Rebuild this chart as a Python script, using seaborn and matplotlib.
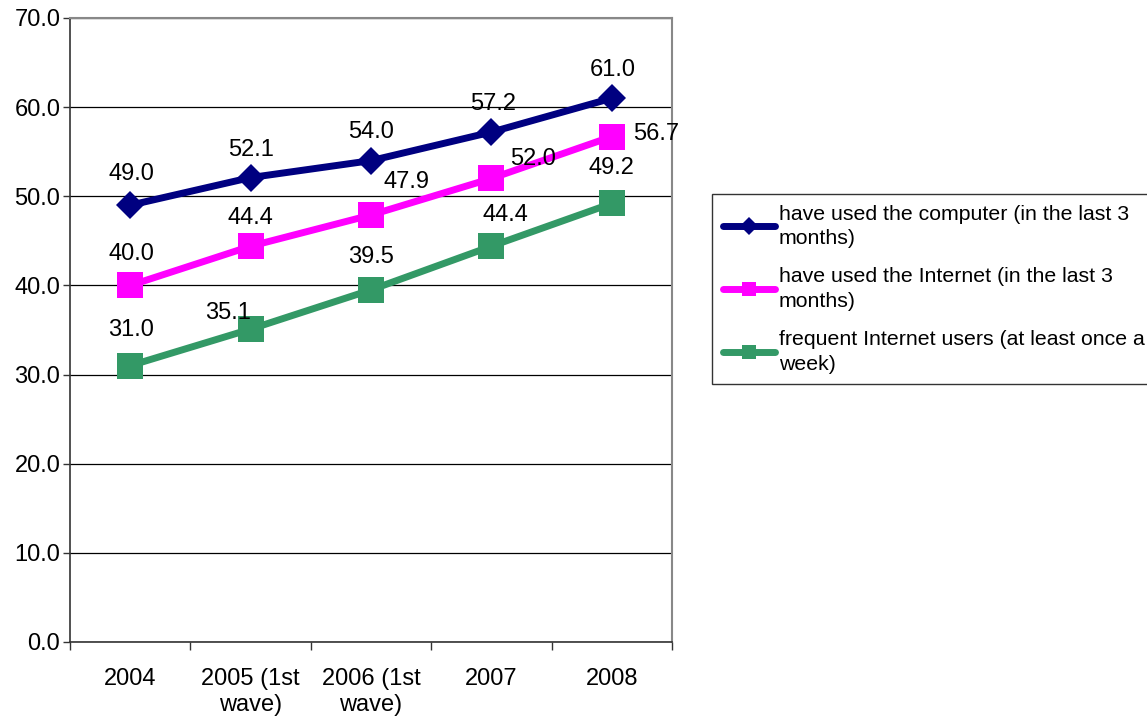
import numpy as np
import pandas as pd
import matplotlib
matplotlib.use("Agg")
import matplotlib.pyplot as plt
import seaborn as sns

years = ["2004", "2005 (1st\nwave)", "2006 (1st\nwave)", "2007", "2008"]
computer = [49.0, 52.1, 54.0, 57.2, 61.0]
internet = [40.0, 44.4, 47.9, 52.0, 56.7]
frequent = [31.0, 35.1, 39.5, 44.4, 49.2]
series_names = [
    "have used the computer (in the last 3\nmonths)",
    "have used the Internet (in the last 3\nmonths)",
    "frequent Internet users (at least once a\nweek)",
]
y_ticks = [0, 10, 20, 30, 40, 50, 60, 70]

sns.set_theme(style="white")
plt.rcParams["font.family"] = ["Liberation Sans", "DejaVu Sans"]
plt.rcParams["text.color"] = "black"
plt.rcParams["xtick.labelcolor"] = "black"
plt.rcParams["ytick.labelcolor"] = "black"

FS = 17

fig = plt.figure(figsize=(11.47, 7.18), dpi=100)
ax = fig.add_axes([70 / 1147, 1 - 642 / 718, (672 - 70) / 1147, (642 - 18) / 718])

pos = np.arange(len(years))
styles = [
    dict(color="#000080", marker="D", markersize=14, legend_ms=9),
    dict(color="#FF00FF", marker="s", markersize=19, legend_ms=10),
    dict(color="#339966", marker="s", markersize=19, legend_ms=10),
]
# value-label baseline offsets (points) from each marker
offsets = [
    [(0.7, 18.4), (0, 15.5), (0, 16.2), (1.4, 16.2), (0.7, 16.2)],
    [(0.7, 18.0), (0, 15.8), (25.9, 19.4), (30.2, 9.7), (31.7, -2.5)],
    [(0.7, 21.2), (-16.2, 7.6), (0, 19.4), (10.1, 18.4), (0, 20.9)],
]

for vals, name, st, offs in zip([computer, internet, frequent], series_names, styles, offsets):
    df = pd.DataFrame({"pos": pos, "value": vals})
    sns.lineplot(data=df, x="pos", y="value", ax=ax, color=st["color"], linewidth=5,
                 marker=st["marker"], markersize=st["markersize"], markeredgewidth=0,
                 label=name, zorder=3)
    for x, v, (dx, dy) in zip(pos, vals, offs):
        ax.annotate(f"{v:.1f}", (x, v), xytext=(dx, dy), textcoords="offset points",
                    ha="center", va="baseline", fontsize=FS, color="black", zorder=4)

ax.set_xlim(-0.5, len(years) - 0.5)
ax.set_ylim(0, 70)
ax.set_yticks(y_ticks)
ax.set_yticklabels([f"{t:.1f}" for t in y_ticks], fontsize=FS)
ax.set_xticks(np.arange(len(years) + 1) - 0.5)
ax.set_xticklabels([])
ax.set_xticks(pos, minor=True)
ax.set_xticklabels(years, minor=True, fontsize=FS)
ax.tick_params(axis="x", which="major", direction="out", length=6, width=1, color="#333333", bottom=True)
ax.tick_params(axis="x", which="minor", length=0, pad=19)
ax.tick_params(axis="y", direction="out", length=5, width=1, color="#333333", left=True, pad=2)
ax.set_xlabel("")
ax.set_ylabel("")

ax.yaxis.grid(True, color="black", linewidth=0.9)
ax.set_axisbelow(True)
for side in ["left", "bottom"]:
    ax.spines[side].set_color("#333333")
    ax.spines[side].set_linewidth(1.2)
for side in ["top", "right"]:
    ax.spines[side].set_color("#888888")
    ax.spines[side].set_linewidth(1.5)

leg = ax.legend(loc="upper left", bbox_to_anchor=(712 / 1147, 1 - 194 / 718),
                bbox_transform=fig.transFigure, frameon=True, fancybox=False,
                fontsize=15.3, handlelength=2.45, handletextpad=0.2, borderpad=0.5,
                labelspacing=0.9, borderaxespad=0)
leg.get_frame().set_edgecolor("black")
leg.get_frame().set_linewidth(1.0)
for t in leg.get_texts():
    t.set_linespacing(1.37)
for h, st in zip(leg.legend_handles, styles):
    h.set_markersize(st["legend_ms"])
    h.set_linewidth(5)

fig.savefig("out.png", dpi=100)
